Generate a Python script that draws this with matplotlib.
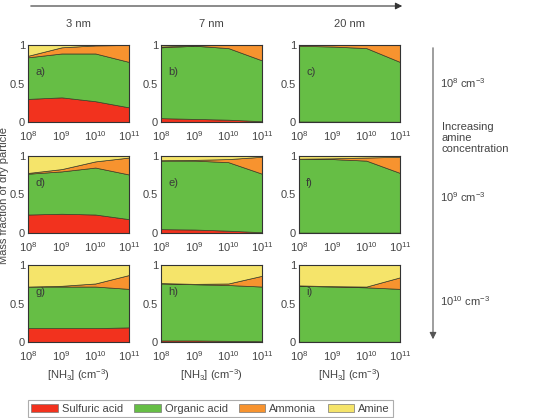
import numpy as np
import matplotlib
matplotlib.use('Agg')
import matplotlib.pyplot as plt
from matplotlib.patches import Patch, FancyArrowPatch

plt.rcParams['font.family'] = ['Liberation Sans', 'DejaVu Sans']
plt.rcParams['mathtext.default'] = 'regular'

# NH3 concentration (cm^-3)
nh3 = [1e8, 1e9, 1e10, 1e11]

sizes = ['3 nm', '7 nm', '20 nm']
amine_levels = ['$10^{8}$ cm$^{-3}$', '$10^{9}$ cm$^{-3}$', '$10^{10}$ cm$^{-3}$']
species = ['Sulfuric acid', 'Organic acid', 'Ammonia', 'Amine']
colors = ['#f2321e', '#66be45', '#f7932f', '#f5e46a']
letters = ['a)', 'b)', 'c)', 'd)', 'e)', 'f)', 'g)', 'h)', 'i)']

# mass fractions per panel (row = amine conc, col = size)
sulfuric = {
    'a': [0.30, 0.32, 0.27, 0.19], 'b': [0.05, 0.04, 0.03, 0.01], 'c': [0.006, 0.005, 0.004, 0.003],
    'd': [0.24, 0.25, 0.24, 0.18], 'e': [0.05, 0.045, 0.03, 0.01], 'f': [0.005, 0.005, 0.005, 0.005],
    'g': [0.18, 0.18, 0.18, 0.19], 'h': [0.02, 0.02, 0.015, 0.01], 'i': [0.003, 0.003, 0.003, 0.003],
}
organic = {
    'a': [0.54, 0.57, 0.62, 0.59], 'b': [0.92, 0.95, 0.93, 0.79], 'c': [0.984, 0.975, 0.956, 0.777],
    'd': [0.53, 0.55, 0.61, 0.58], 'e': [0.89, 0.895, 0.89, 0.76], 'f': [0.955, 0.955, 0.935, 0.775],
    'g': [0.54, 0.54, 0.54, 0.50], 'h': [0.74, 0.73, 0.725, 0.71], 'i': [0.727, 0.717, 0.707, 0.687],
}
ammonia = {
    'a': [0.02, 0.08, 0.105, 0.22], 'b': [0.01, 0.005, 0.04, 0.20], 'c': [0.01, 0.02, 0.04, 0.22],
    'd': [0.01, 0.03, 0.08, 0.22], 'e': [0.005, 0.01, 0.04, 0.22], 'f': [0.005, 0.01, 0.04, 0.21],
    'g': [0.0, 0.01, 0.04, 0.18], 'h': [0.005, 0.005, 0.02, 0.14], 'i': [0.005, 0.005, 0.01, 0.15],
}
amine = {
    'a': [0.14, 0.03, 0.005, 0.0], 'b': [0.02, 0.005, 0.0, 0.0], 'c': [0.0, 0.0, 0.0, 0.0],
    'd': [0.22, 0.17, 0.07, 0.02], 'e': [0.055, 0.05, 0.04, 0.01], 'f': [0.035, 0.03, 0.02, 0.01],
    'g': [0.28, 0.27, 0.24, 0.13], 'h': [0.235, 0.245, 0.24, 0.14], 'i': [0.265, 0.275, 0.28, 0.16],
}

W, H = 537, 418
fig = plt.figure(figsize=(W / 100, H / 100), dpi=100)

col_left = [28, 161, 299]
row_top = [45, 156, 265]
aw, ah = 101, 77
txt = '#444444'
fs = 8

for r in range(3):
    for c in range(3):
        key = 'abcdefghi'[r * 3 + c]
        ax = fig.add_axes([col_left[c] / W, 1 - (row_top[r] + ah) / H, aw / W, ah / H])
        ax.stackplot(nh3, sulfuric[key], organic[key], ammonia[key], amine[key],
                     colors=colors, edgecolor='#3d3d25', linewidth=0.5)
        ax.set_xscale('log')
        ax.set_xlim(1e8, 1e11)
        ax.set_ylim(0, 1)
        ax.set_xticks(nh3)
        ax.set_xticklabels(['$10^{8}$', '$10^{9}$', '$10^{10}$', '$10^{11}$'])
        ax.minorticks_off()
        ax.set_yticks([0, 0.5, 1])
        ax.set_yticklabels(['0', '0.5', '1'])
        ax.tick_params(length=0, labelsize=fs, colors=txt)
        ax.tick_params(axis='y', pad=2)
        ax.tick_params(axis='x', pad=5)
        for s in ax.spines.values():
            s.set_linewidth(0.8)
            s.set_color('#333333')
        ax.text(0.07, 0.65, letters[r * 3 + c], transform=ax.transAxes,
                fontsize=fs, color='#3a3a3a', va='center')
        if r == 0:
            ax.set_title(sizes[c], fontsize=fs, color=txt, pad=13)
        if r == 2:
            ax.set_xlabel('[NH$_3$] (cm$^{-3}$)', fontsize=fs, color=txt, labelpad=3)

# top arrow (increasing size)
fig.add_artist(FancyArrowPatch(
    (28 / W, 1 - 6 / H), (405 / W, 1 - 6 / H), transform=fig.transFigure,
    arrowstyle='-|>', mutation_scale=10, color='#333333', linewidth=0.8))

# vertical arrow (increasing amine)
fig.add_artist(FancyArrowPatch(
    (433 / W, 1 - 45 / H), (433 / W, 1 - 342 / H), transform=fig.transFigure,
    arrowstyle='-|>', mutation_scale=10, color='#555555', linewidth=0.8))

label_y = [83, 197, 301]
for lab, yy in zip(amine_levels, label_y):
    fig.text(440 / W, 1 - yy / H, lab, fontsize=fs, color=txt, va='center')
fig.text(442 / W, 1 - 122 / H, 'Increasing\namine\nconcentration', fontsize=fs,
         color=txt, va='top', linespacing=1.15)

fig.text(4 / W, 1 - 195 / H, 'Mass fraction of dry particle', rotation=90,
         fontsize=fs, color=txt, va='center', ha='center')

handles = [Patch(facecolor=col, edgecolor='#777777', linewidth=0.5) for col in colors]
leg = fig.legend(handles, species, loc='lower left', ncol=4,
                 bbox_to_anchor=(28 / W, 1 / H), fontsize=fs, frameon=True,
                 fancybox=False, handlelength=2.4, handleheight=0.8,
                 handletextpad=0.35, columnspacing=1.0, borderpad=0.3,
                 borderaxespad=0)
leg.get_frame().set_edgecolor('#999999')
leg.get_frame().set_linewidth(0.8)
for t in leg.get_texts():
    t.set_color(txt)

fig.savefig('out.png', dpi=100)
